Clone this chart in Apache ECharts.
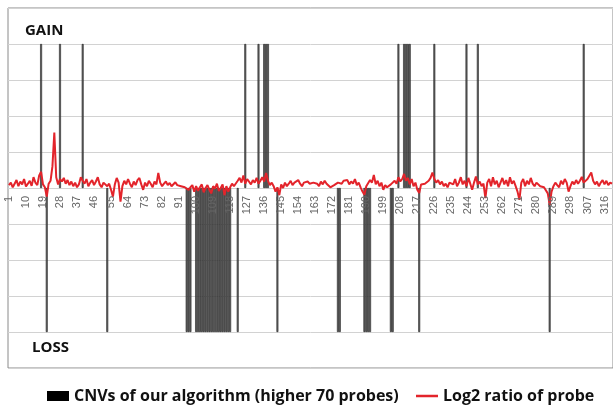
<!DOCTYPE html>
<html>
<head>
<meta charset="utf-8">
<script src="https://cdn.jsdelivr.net/npm/echarts@6/dist/echarts.min.js"></script>
<style>
  html, body { margin: 0; padding: 0; background: #fff; }
  #chart { width: 613px; height: 412px; }
</style>
</head>
<body>
<div id="chart"></div>
<script>
// probe index 1..320 on the x axis
const probes = Array.from({ length: 320 }, (_, i) => String(i + 1));
const tickLabels = ['1', '10', '19', '28', '37', '46', '55', '64', '73', '82', '91', '100',
  '109', '118', '127', '136', '145', '154', '163', '172', '181', '190', '199', '208',
  '217', '226', '235', '244', '253', '262', '271', '280', '289', '298', '307', '316'];

// log2 ratio of each probe
const log2Ratio = [
  0.08, 0.15, 0.02, 0.12, 0.22, 0.05, 0.18, 0.10, 0.25, 0.04,
  0.12, 0.20, 0.06, 0.30, 0.15, 0.08, 0.35, 0.45, 0.10, 0.02,
  -0.24, 0.12, 0.20, 0.60, 1.54, 0.30, 0.10, 0.25, 0.18, 0.28,
  0.12, 0.22, 0.08, 0.18, 0.05, 0.15, 0.02, 0.10, 0.30, 0.20,
  0.12, 0.25, 0.05, 0.15, 0.22, 0.08, 0.18, 0.30, 0.10, 0.02,
  0.15, 0.20, 0.05, 0.12, -0.05, -0.24, 0.10, 0.28, 0.15, -0.38,
  0.05, 0.20, 0.10, 0.25, 0.12, 0.02, 0.18, 0.08, 0.22, 0.28,
  0.10, -0.05, 0.15, 0.05, 0.20, 0.12, 0.02, 0.18, 0.10, 0.42,
  0.15, 0.05, 0.12, 0.18, 0.08, 0.14, 0.05, 0.10, 0.16, 0.08,
  0.12, 0.05, 0.10, 0.02, 0.00, -0.05, 0.02, 0.08, -0.10, 0.05,
  -0.08, 0.02, 0.10, -0.12, 0.00, 0.08, -0.05, -0.15, 0.05, -0.02,
  0.12, -0.08, 0.00, 0.10, -0.20, 0.05, -0.10, 0.02, 0.12, 0.05,
  0.10, 0.20, 0.28, 0.15, 0.35, 0.12, 0.25, 0.30, 0.10, 0.22,
  0.15, 0.28, 0.12, 0.20, 0.30, 0.18, 0.42, 0.20, 0.08, 0.15,
  0.05, -0.10, 0.02, -0.20, 0.10, 0.00, 0.15, 0.05, 0.12, 0.20,
  0.08, 0.15, 0.10, 0.22, 0.12, 0.05, 0.15, 0.10, 0.18, 0.12,
  0.08, 0.15, 0.10, 0.12, 0.05, 0.18, 0.10, 0.20, 0.12, 0.08,
  0.02, 0.05, 0.08, 0.10, 0.15, 0.18, 0.12, 0.20, 0.15, 0.22,
  0.10, 0.18, 0.12, 0.25, 0.08, 0.15, 0.02, -0.10, -0.19, 0.05,
  0.10, 0.22, 0.15, 0.36, 0.10, 0.20, 0.05, 0.15, -0.05, 0.08,
  0.02, 0.05, 0.10, 0.15, 0.20, 0.12, 0.30, 0.18, 0.25, 0.39,
  0.20, 0.28, 0.10, 0.25, 0.05, 0.15, -0.05, -0.14, 0.10, 0.05,
  0.12, 0.08, 0.20, 0.28, 0.43, 0.25, 0.15, 0.22, 0.10, 0.18,
  0.05, 0.12, 0.02, 0.15, 0.20, 0.10, 0.25, 0.05, 0.15, 0.30,
  0.10, 0.20, 0.05, 0.28, 0.12, -0.05, 0.15, 0.32, 0.10, 0.18,
  0.05, 0.12, -0.28, 0.15, 0.25, 0.05, 0.30, 0.10, 0.20, 0.02,
  0.15, 0.28, 0.10, 0.22, 0.05, 0.30, 0.12, 0.20, 0.05, -0.10,
  -0.33, 0.15, 0.25, 0.05, 0.20, 0.10, 0.28, 0.12, 0.05, 0.15,
  0.10, 0.05, 0.08, 0.02, 0.00, -0.15, -0.47, -0.10, 0.05, 0.15,
  0.08, 0.02, 0.20, 0.10, 0.25, 0.15, -0.10, 0.05, 0.18, 0.10,
  0.22, 0.12, 0.20, 0.31, 0.15, 0.10, 0.25, 0.30, 0.43, 0.20,
  0.10, 0.18, 0.05, 0.15, 0.22, 0.10, 0.20, 0.08, 0.15, 0.12
];

// probes called as CNV by the algorithm
const gainProbes = [18, 28, 40, 126, 133, 136, 137, 138, 207, 210, 211, 212, 213,
  226, 243, 249, 305];
const lossProbes = [21, 53, 95, 96, 97, 100, 101, 102, 103, 104, 105, 106, 107, 108,
  109, 110, 111, 112, 113, 114, 115, 116, 117, 118, 122, 143, 175, 176, 189, 190,
  191, 192, 203, 204, 218, 287];
const gainLevel = 4;
const lossLevel = -4;

const cnvName = 'CNVs of our algorithm (higher 70 probes)';
const ratioName = 'Log2 ratio of probe';

const gainData = probes.map(p => gainProbes.includes(+p) ? gainLevel : null);
const lossData = probes.map(p => lossProbes.includes(+p) ? lossLevel : null);

const barStyle = { color: '#6e6e6e', borderColor: '#1a1a1a', borderWidth: 0.6 };

const chart = echarts.init(document.getElementById('chart'));
chart.setOption({
  backgroundColor: '#fff',
  animation: false,
  textStyle: { fontFamily: 'Open Sans' },
  grid: {
    left: 8, top: 8, width: 608, height: 360,
    show: true, borderColor: '#8a8a8a', borderWidth: 1
  },
  graphic: [
    { type: 'text', left: 25, top: 23, style: { text: 'GAIN', font: 'bold 15px "Open Sans"', fill: '#111' } },
    { type: 'text', left: 32, top: 340, style: { text: 'LOSS', font: 'bold 15px "Open Sans"', fill: '#111' } }
  ],
  legend: {
    left: 42, top: 383,
    itemWidth: 22, itemHeight: 10, itemGap: 16,
    textStyle: { fontSize: 16, fontWeight: 'bold', color: '#111', fontFamily: 'Open Sans' },
    data: [
      { name: cnvName, icon: 'rect', itemStyle: { color: '#000', borderWidth: 0 } },
      { name: ratioName, itemStyle: { opacity: 0 }, lineStyle: { width: 2.5 } }
    ]
  },
  xAxis: {
    type: 'category',
    data: probes,
    boundaryGap: true,
    position: 'bottom',
    offset: -180,
    z: 10,
    axisLine: { show: false },
    axisTick: { show: false },
    axisLabel: {
      rotate: 90,
      margin: 8,
      fontSize: 11,
      color: '#666',
      fontFamily: 'Liberation Sans',
      interval: (i, v) => tickLabels.includes(v)
    },
    splitLine: { show: false }
  },
  yAxis: {
    type: 'value',
    min: -5, max: 5, interval: 1,
    axisLabel: { show: false },
    axisLine: { show: false },
    axisTick: { show: false },
    splitLine: { lineStyle: { color: '#d2d2d2', width: 1 } }
  },
  series: [
    {
      name: cnvName, type: 'bar', data: gainData,
      barWidth: '100%', barGap: '-100%', itemStyle: barStyle
    },
    {
      name: cnvName, type: 'bar', data: lossData,
      barWidth: '100%', barGap: '-100%', itemStyle: barStyle
    },
    {
      name: ratioName, type: 'line', data: log2Ratio,
      symbol: 'none', z: 5,
      lineStyle: { color: '#e3242b', width: 2 },
      itemStyle: { color: '#e3242b' }
    }
  ]
});
</script>
</body>
</html>
